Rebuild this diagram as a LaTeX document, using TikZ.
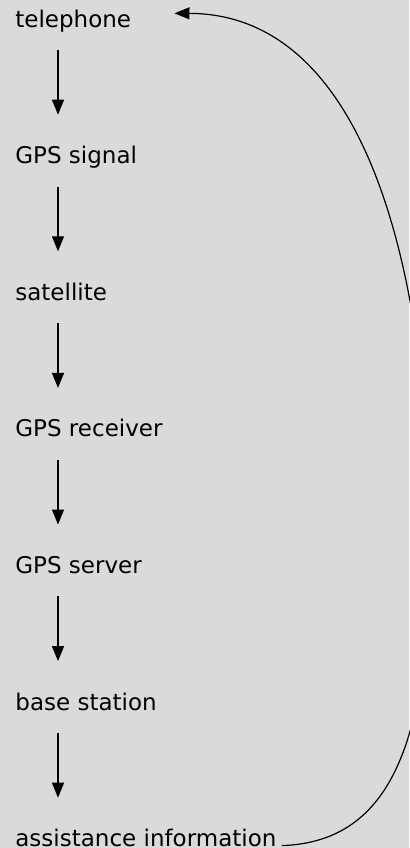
\documentclass[tikz,border=0pt]{standalone}
\usepackage{fontspec}
\setmainfont{DejaVu Sans}
\usetikzlibrary{positioning, arrows.meta}

\definecolor{panel}{RGB}{218,218,218}

\begin{document}
\begin{tikzpicture}[x=0.5pt, y=-0.5pt,
  lbl/.style={anchor=base west, inner sep=0pt, text height=8.5pt, text depth=2.5pt,
    font=\fontsize{11.5pt}{13pt}\selectfont},
  flow/.style={-{Triangle[length=7.5pt, width=6pt]}, line width=0.6pt,
    shorten <=8.75pt, shorten >=15.75pt},
  loopback/.style={-{Triangle[length=7.5pt, width=6pt]}, line width=0.6pt}]
  \fill[panel] (0,0) rectangle (409,848);
  \useasboundingbox (0,0) rectangle (409,848);

  % chain of labels, left aligned
  \node[lbl] (tele) at (15,27) {telephone};
  \node[lbl, below right=56.9pt and 0pt of tele.south west] (signal) {GPS signal};
  \node[lbl, below right=56.9pt and 0pt of signal.south west] (sat) {satellite};
  \node[lbl, below right=56.9pt and 0pt of sat.south west] (recv) {GPS receiver};
  \node[lbl, below right=56.9pt and 0pt of recv.south west] (server) {GPS server};
  \node[lbl, below right=56.9pt and 0pt of server.south west] (base) {base station};
  \node[lbl, text depth=0pt, below right=56.9pt and 0pt of base.south west] (assist) {assistance information};

  \draw[flow] ([xshift=21.5pt]tele.south west) -- ([xshift=21.5pt]signal.north west);
  \draw[flow] ([xshift=21.5pt]signal.south west) -- ([xshift=21.5pt]sat.north west);
  \draw[flow] ([xshift=21.5pt]sat.south west) -- ([xshift=21.5pt]recv.north west);
  \draw[flow] ([xshift=21.5pt]recv.south west) -- ([xshift=21.5pt]server.north west);
  \draw[flow] ([xshift=21.5pt]server.south west) -- ([xshift=21.5pt]base.north west);
  \draw[flow] ([xshift=21.5pt]base.south west) -- ([xshift=21.5pt]assist.north west);

  % feedback loop, runs off the right edge
  \draw[loopback] ([xshift=2.5pt, yshift=0.5pt]assist.base east)
    .. controls (392,842) and (430,740) .. (430,540)
    .. controls (430,290) and (373,14) .. ([xshift=21.5pt, yshift=6.85pt]tele.base east);
\end{tikzpicture}
\end{document}
